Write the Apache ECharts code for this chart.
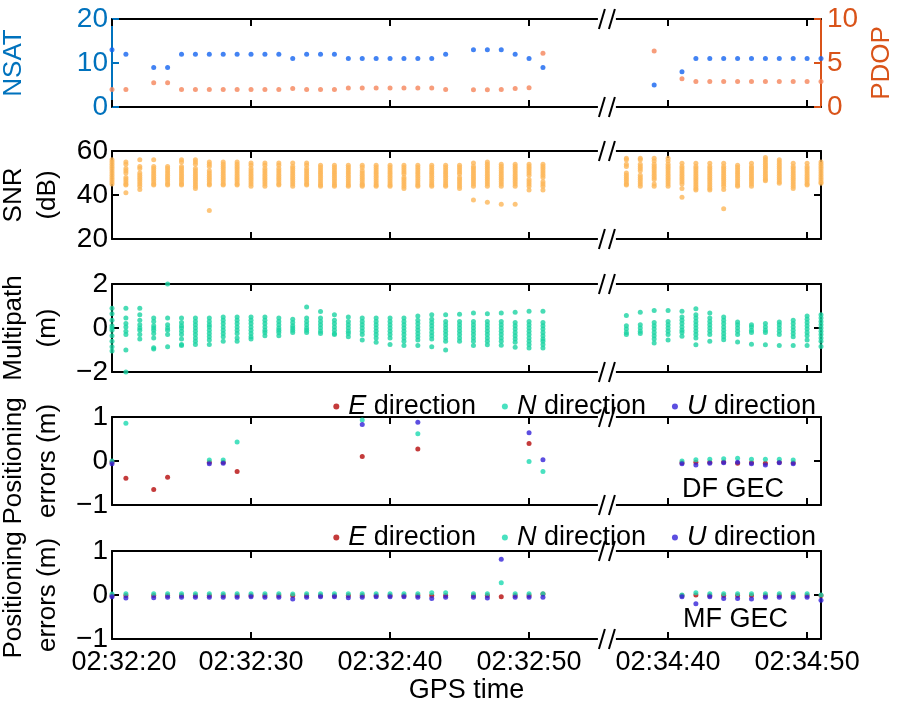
<!DOCTYPE html>
<html><head><meta charset="utf-8">
<script src="https://cdn.jsdelivr.net/npm/echarts@6/dist/echarts.min.js"></script>
<style>html,body{margin:0;padding:0;background:#fff}#c{width:898px;height:712px}</style>
</head><body><div id="c"></div>
<script>
// time = seconds after 02:32:00
const nsatTime = [20,21,23,24,25,26,27,28,29,30,31,32,33,34,35,36,37,38,39,40,41,42,43,44,46,47,48,49,50,51,159,161,162,163,164,165,166,167,168,169,170,171];
const nsatValue = [13,12,9,9,12,12,12,12,12,12,12,12,11,12,12,12,11,11,11,11,11,11,11,12,13,13,13,12,11,9,5,8,11,11,11,11,11,11,11,11,11,11];
const pdopValue = [2.0,2.0,2.75,2.75,2.0,2.0,2.0,2.0,2.0,2.0,2.0,2.0,2.1,2.0,2.0,2.0,2.15,2.15,2.15,2.15,2.15,2.15,2.15,2.0,1.95,1.95,2.0,2.1,2.2,6.1,6.35,3.2,2.9,2.9,2.9,2.9,2.9,2.9,2.9,2.9,2.9,2.9];

const obsTime = [20,21,22,23,24,25,26,27,28,29,30,31,32,33,34,35,36,37,38,39,40,41,42,43,44,45,46,47,48,49,50,51,157,158,159,160,161,162,163,164,165,166,167,168,169,170,171];
const snrValues = [
 [56,55,54,53,52,51,50,49,48,47,46,45],
 [55,54,52,51,50,48,47,46,45,44.5,41],
 [56,53,52,50,49,48,47,46,45,44,42.5],
 [56,53,52,51,50,49,48,47,46,45,44.5],
 [53,52,51,50,49,48,47,46,45,44.5],
 [56,55,53,52,51,50,49,48,47,46,45,44.5],
 [56,55,54,52,51,50,49,48,47,46,45,44,43],
 [55,54,53,51,50,49,48,47,46,45,44.5,33],
 [55,54,53,52,51,50,49,48,47,46,45,44.5],
 [55,54,53,52,51,50,49,48,47,46,45,44.5],
 [54.5,53.5,52,51,50,49,48,47,46,45,44],
 [54.5,53.5,52,51,50,49,48,47,46,45,44],
 [54.5,53.5,52,51,50,49,48,47,46,45,44.5],
 [54.5,53,52,51,50,49,48,47,46,45,44],
 [54.5,53.5,52,51,50,49,48,47,46,45,44.5],
 [53.5,52.5,51.5,50.5,49.5,48.5,47.5,46.5,45.5,44.5,44],
 [53.5,52.5,51.5,50.5,49.5,48.5,47.5,46.5,45.5,44.5,44],
 [53.5,52.5,51.5,50.5,49.5,48.5,47.5,46.5,45.5,44.5,44],
 [53.5,52.5,51,50,49,48,47,46,45,44.5,44],
 [53.5,52.5,51.5,50.5,49.5,48.5,47.5,46.5,45.5,44.5,44],
 [53.5,52.5,51.5,50.5,49.5,48.5,47.5,46.5,45.5,44.5,44],
 [53.5,52.5,51.5,50.5,49.5,48,47,46,45,44,43],
 [53.5,52.5,51.5,50.5,49.5,48.5,47.5,46.5,45.5,44.5,44],
 [53.5,52.5,51.5,50.5,49.5,48.5,47.5,46.5,45.5,44.5,44],
 [53.5,52.5,51.5,50.5,49.5,48.5,47.5,46.5,45.5,44.5,44],
 [53.5,52.5,51.5,50.5,49.5,48,47,46,45,44,43],
 [54.5,53,52,51,50,49,48,47,46,45,44,37.7],
 [55,54,53,52,51,50,49,48,47,46,45,44,36.7],
 [54,53,52,51,50,49,48,47,46,45,44,35.8],
 [54,53,52,51,50,49,48,47,46,45,44,35.8],
 [54,53,52,51,50,49,47,46,45,44,42.3],
 [54,53,52,51,50,49,48,46,45,44,42.3],
 [56.7,56,54,53,50,49,48,47,46,45,44.5],
 [56.7,56,54,53,52,51,49,48,47,46,45,44],
 [56.7,55.5,54,53,52,51,50,49,48,47,45,44],
 [56.7,55.5,54,53,52,51,50,49,48,47,46,45,44],
 [54.4,53,52,51,50,49,48,47,46,45,43,39],
 [54.4,53,52,51,50,49,48,47,46,45,44,43,42.3],
 [54.4,53,52,51,50,49,48,47,46,45,44,43,42.3],
 [54.4,53,52,51,50,49,48,47,46,45,44,42.5,33.8],
 [53.5,52.5,51.5,50.5,49.5,48.5,47.5,46.5,45.5,44.5,44],
 [54.4,53,52,51,50,49,48,47,46,45,44],
 [57,56,55,54,53,52,51,50,49,48,47,46.5],
 [56,55,54,53,52,51,50,49,48,47,46,45.3],
 [54.4,53,52,51,50,49,48,47,46,45,44,43],
 [54.4,53,52,51,50,49,48,47,46,45,44.5],
 [55,54,53,52,51,50,49,48,47,46,45.3]
];
const mpValues = [
 [0.9,0.65,0.35,0.1,0,-0.1,-0.35,-0.6,-0.85,-1.05],
 [0.9,0.45,0.2,0.05,-0.15,-0.3,-1.0,-2.0],
 [0.9,0.6,0.35,0.15,0,-0.1,-0.3,-0.5],
 [0.45,0.3,0.1,0,-0.1,-0.25,-0.45,-0.9,-0.95],
 [2.0,0.45,0.15,0,-0.1,-0.3,-0.85],
 [0.45,0.25,0.1,0,-0.15,-0.3,-0.5,-0.75,-0.8],
 [0.45,0.3,0.15,0,-0.15,-0.3,-0.45,-0.6,-0.75],
 [0.45,0.3,0.15,0.05,-0.1,-0.25,-0.4,-0.55,-0.75],
 [0.5,0.35,0.2,0.05,-0.1,-0.25,-0.4,-0.6],
 [0.5,0.35,0.2,0.05,-0.1,-0.25,-0.45,-0.6],
 [0.5,0.35,0.2,0.05,-0.1,-0.25,-0.4,-0.5],
 [0.5,0.35,0.2,0.05,-0.1,-0.2,-0.35],
 [0.45,0.3,0.15,0,-0.1,-0.2,-0.35],
 [0.4,0.25,0.1,0,-0.1,-0.2],
 [0.95,0.45,0.3,0.15,0,-0.1,-0.2],
 [0.75,0.45,0.3,0.15,0,-0.15,-0.25],
 [0.6,0.35,0.2,0.05,-0.1,-0.25,-0.3],
 [0.5,0.3,0.15,0,-0.15,-0.25,-0.4],
 [0.45,0.3,0.15,0,-0.15,-0.3,-0.55],
 [0.45,0.3,0.15,0,-0.15,-0.3,-0.45,-0.65],
 [0.45,0.3,0.15,0,-0.15,-0.3,-0.45,-0.75],
 [0.45,0.3,0.15,0,-0.15,-0.3,-0.45,-0.6,-0.8],
 [0.55,0.35,0.2,0.05,-0.1,-0.25,-0.4,-0.55,-0.8],
 [0.6,0.4,0.25,0.1,-0.05,-0.2,-0.35,-0.5,-0.85],
 [0.6,0.3,0.15,0,-0.15,-0.3,-0.45,-0.6,-1.0],
 [0.62,0.3,0.15,0,-0.15,-0.3,-0.45,-0.6],
 [0.68,0.3,0.15,0,-0.15,-0.3,-0.45,-0.6,-0.8],
 [0.65,0.3,0.15,0,-0.15,-0.3,-0.45,-0.6,-0.76],
 [0.68,0.3,0.15,0,-0.15,-0.3,-0.45,-0.6,-0.78],
 [0.72,0.25,0.1,-0.05,-0.2,-0.35,-0.5,-0.65,-0.88],
 [0.76,0.3,0.15,0,-0.15,-0.3,-0.45,-0.6,-0.75,-0.91],
 [0.76,0.25,0.1,-0.05,-0.2,-0.35,-0.5,-0.6,-0.75,-0.91],
 [0.57,0.1,-0.05,-0.2,-0.3],
 [0.72,0.15,0,-0.15,-0.25],
 [0.8,0.25,0.1,-0.05,-0.2,-0.35,-0.5,-0.68],
 [0.8,0.3,0.15,0,-0.15,-0.3,-0.55],
 [0.76,0.5,0.35,0.2,0.05,-0.1,-0.2,-0.38],
 [0.88,0.6,0.45,0.3,0.15,0,-0.15,-0.3,-0.45,-0.76],
 [0.68,0.45,0.3,0.15,0,-0.15,-0.3,-0.6],
 [0.5,0.35,0.2,0.05,-0.1,-0.25,-0.4,-0.53],
 [0.27,0.15,0,-0.15,-0.3,-0.64],
 [0.15,0.05,-0.1,-0.2,-0.74],
 [0.2,0.05,-0.1,-0.2,-0.76],
 [0.27,0.15,0,-0.15,-0.3,-0.8],
 [0.35,0.2,0.05,-0.1,-0.25,-0.4,-0.8],
 [0.55,0.4,0.25,0.1,-0.05,-0.2,-0.35,-0.55,-0.8],
 [0.6,0.45,0.3,0.15,0,-0.15,-0.3,-0.45,-0.6,-0.84]
];

// DF GEC positioning errors [time, value]
const dfE = [[20,-0.02],[21,-0.39],[23,-0.65],[24,-0.37],[27,-0.03],[28,-0.03],[29,-0.24],[38,0.1],[42,0.27],[50,0.4],[161,-0.04],[162,-0.03],[163,-0.03],[164,-0.02],[165,-0.05],[166,-0.04],[167,-0.05],[168,-0.03],[169,-0.04]];
const dfN = [[20,0.0],[21,0.86],[27,0.02],[28,0.02],[29,0.43],[38,0.93],[42,0.62],[50,-0.01],[51,-0.24],[161,0.0],[162,0.03],[163,0.04],[164,0.05],[165,0.06],[166,0.04],[167,0.04],[168,0.04],[169,0.02]];
const dfU = [[20,-0.06],[27,-0.06],[28,-0.05],[38,0.83],[42,0.88],[50,0.64],[51,0.03],[161,-0.06],[162,-0.09],[163,-0.05],[164,-0.04],[165,-0.03],[166,-0.06],[167,-0.09],[168,-0.04],[169,-0.06]];

// MF GEC positioning errors
const mfTime = [20,21,23,24,25,26,27,28,29,30,31,32,33,34,35,36,37,38,39,40,41,42,43,44,46,47,48,49,50,51,161,162,163,164,165,166,167,168,169,170,171];
const mfE = [-0.01,-0.01,-0.01,-0.01,-0.01,-0.01,-0.01,-0.01,-0.01,-0.01,-0.01,-0.01,-0.01,-0.01,-0.01,-0.01,-0.01,-0.01,-0.01,-0.01,-0.01,-0.01,-0.01,-0.01,-0.01,-0.01,-0.04,-0.01,-0.01,0.02,-0.01,0.0,-0.01,-0.01,-0.01,-0.01,-0.01,-0.01,-0.01,-0.01,-0.01];
const mfN = [0.02,0.03,0.03,0.03,0.03,0.03,0.03,0.03,0.03,0.03,0.03,0.03,0.02,0.03,0.03,0.03,0.03,0.03,0.03,0.03,0.03,0.03,0.05,0.05,0.03,0.03,0.28,0.03,0.03,0.03,0.0,0.05,0.03,0.03,0.03,0.03,0.03,0.03,0.03,0.03,0.0];
const mfU = [-0.04,-0.07,-0.06,-0.05,-0.05,-0.05,-0.05,-0.05,-0.05,-0.04,-0.05,-0.05,-0.09,-0.05,-0.04,-0.04,-0.06,-0.05,-0.04,-0.04,-0.04,-0.05,-0.08,-0.05,-0.05,-0.07,0.81,-0.05,-0.05,-0.05,-0.04,-0.2,-0.04,-0.08,-0.08,-0.09,-0.05,-0.05,-0.05,-0.05,-0.12];

const xTickTimes = [20,30,40,50,160,170];
const xTickLabels = ['02:32:20','02:32:30','02:32:40','02:32:50','02:34:40','02:34:50'];
const axisBreak = {from: 55.6, to: 155.6};   // 02:32:55.6 .. 02:34:35.6 is cut out

const FONT = 'Liberation Sans, Arial, Helvetica, sans-serif';
const C = {nsat:'#1464F0', pdop:'#F5845A', snr:'#FDB659', mp:'#1CD3A2', E:'#B50A0A', N:'#1CD9B0', U:'#3322D8', axL:'#0072BD', axR:'#D95319'};

function cx(t){ return t >= axisBreak.to ? t - (axisBreak.to - axisBreak.from) : t; }
const xTicks = xTickTimes.map(cx);
const xMin = 20, xMax = cx(171);

function flat(times, lists){ const out=[]; times.forEach((t,i)=>lists[i].forEach(v=>out.push([cx(t),v]))); return out; }
function pairs(times, vals){ return times.map((t,i)=>[cx(t), vals[i]]); }
function conv(arr){ return arr.map(p=>[cx(p[0]), p[1]]); }
function fmtY(v){ return v < 0 ? '\u2212' + (-v) : String(v); }

const tops = [19, 151, 284, 417, 551];
const H = 88;
const TICKF = 28, TXTF = 27, NAMEF = 26;
const grid = tops.map(t=>({left:112, right:77, top:t, height:H, containLabel:false, outerBoundsMode:'none'}));

const xAxis = [];
tops.forEach((t,p)=>{
  const base = {type:'value', gridIndex:p, min:xMin, max:xMax, splitLine:{show:false},
    axisLine:{onZero:false, lineStyle:{color:'#000', width:2}},
    axisTick:{inside:true, length:7, customValues:xTicks, lineStyle:{color:'#000', width:2}}};
  xAxis.push(Object.assign({}, base, {position:'bottom',
    axisLabel:{show:p===4, customValues:xTicks, margin:10, color:'#000', fontSize:TXTF, fontFamily:FONT,
      formatter:(v)=>{ const i = xTicks.indexOf(v); if (i<0) return ''; return i===0 ? '{f|'+xTickLabels[i]+'}' : xTickLabels[i]; },
      rich:{f:{padding:[0,0,0,24], fontSize:TXTF, fontFamily:FONT, color:'#000'}}},
    name: p===4 ? 'GPS time' : '', nameLocation:'middle', nameGap:38,
    nameTextStyle:{fontSize:TXTF, fontFamily:FONT, color:'#000'}}));
  xAxis.push(Object.assign({}, base, {position:'top', axisLabel:{show:false}}));
});

const yRanges = [[20,60,20],[-2,2,2],[-1,1,1],[-1,1,1]];
const yNames = ['SNR\n(dB)','Multipath\n(m)','Positioning\nerrors (m)','Positioning\nerrors (m)'];
const yAxis = [
  {type:'value', gridIndex:0, position:'left', min:0, max:20, interval:10, splitLine:{show:false},
   axisLine:{onZero:false, lineStyle:{color:C.axL, width:2}}, axisTick:{inside:true, length:7, lineStyle:{color:C.axL, width:2}},
   axisLabel:{color:C.axL, fontSize:TICKF, fontFamily:FONT, margin:4},
   name:'NSAT', nameLocation:'middle', nameRotate:90, nameGap:85, nameTextStyle:{color:C.axL, fontSize:NAMEF, fontFamily:FONT}},
  {type:'value', gridIndex:0, position:'right', min:0, max:10, interval:5, splitLine:{show:false},
   axisLine:{onZero:false, lineStyle:{color:C.axR, width:2}}, axisTick:{inside:true, length:7, lineStyle:{color:C.axR, width:2}},
   axisLabel:{color:C.axR, fontSize:TICKF, fontFamily:FONT, margin:6},
   name:'PDOP', nameLocation:'middle', nameRotate:90, nameGap:47, nameTextStyle:{color:C.axR, fontSize:NAMEF, fontFamily:FONT}}
];
yRanges.forEach((r,k)=>{
  const p = k+1;
  const base = {type:'value', gridIndex:p, min:r[0], max:r[1], interval:r[2], splitLine:{show:false},
    axisLine:{onZero:false, lineStyle:{color:'#000', width:2}}, axisTick:{inside:true, length:7, lineStyle:{color:'#000', width:2}}};
  yAxis.push(Object.assign({}, base, {position:'left',
    axisLabel:{color:'#000', fontSize:TICKF, fontFamily:FONT, margin:4, formatter:fmtY},
    name:yNames[k], nameLocation:'middle', nameRotate:90, nameGap:47,
    nameTextStyle:{color:'#000', fontSize:NAMEF, fontFamily:FONT, lineHeight:34}}));
  yAxis.push(Object.assign({}, base, {position:'right', axisLabel:{show:false}}));
});

function sc(name, data, color, xi, yi){
  return {type:'scatter', name, data, xAxisIndex:xi, yAxisIndex:yi, symbol:'circle', symbolSize:5,
    itemStyle:{color}, silent:true, animation:false};
}

function breakRender(params, api){
  const cs = params.coordSys;
  const x = api.coord([api.value(0), api.value(1)])[0];
  const ch = [];
  [cs.y, cs.y + cs.height].forEach(y=>{
    ch.push({type:'rect', shape:{x:x-9, y:y-2, width:18, height:4}, style:{fill:'#fff'}});
    ch.push({type:'line', shape:{x1:x-8, y1:y+10, x2:x-2, y2:y-10}, style:{stroke:'#000', lineWidth:2}});
    ch.push({type:'line', shape:{x1:x+2, y1:y+10, x2:x+8, y2:y-10}, style:{stroke:'#000', lineWidth:2}});
  });
  return {type:'group', children:ch};
}
const yMins = [0,20,-2,-1,-1];

const series = [
  sc('NSAT', pairs(nsatTime, nsatValue), C.nsat, 0, 0),
  sc('PDOP', pairs(nsatTime, pdopValue), C.pdop, 0, 1),
  sc('SNR', flat(obsTime, snrValues), C.snr, 2, 2),
  sc('Multipath', flat(obsTime, mpValues), C.mp, 4, 4),
  sc('E direction', conv(dfE), C.E, 6, 6),
  sc('N direction', conv(dfN), C.N, 6, 6),
  sc('U direction', conv(dfU), C.U, 6, 6),
  sc('E direction', pairs(mfTime, mfE), C.E, 8, 8),
  sc('N direction', pairs(mfTime, mfN), C.N, 8, 8),
  sc('U direction', pairs(mfTime, mfU), C.U, 8, 8)
];
tops.forEach((t,p)=>{
  series.push({type:'custom', name:'break'+p, xAxisIndex:2*p, yAxisIndex:2*p, clip:false, silent:true, animation:false, z:10,
    data:[[axisBreak.from, yMins[p]]], renderItem:breakRender});
});

const legend = [388, 519].map(top=>({
  top, right:77, icon:'circle', itemWidth:6, itemHeight:6, itemGap:26, selectedMode:false,
  data:['E direction','N direction','U direction'],
  formatter:(n)=>'{i|'+n.charAt(0)+'}{t| direction}',
  textStyle:{fontSize:TXTF, fontFamily:FONT, color:'#000', padding:[0,0,0,4],
    rich:{i:{fontStyle:'italic', fontSize:TXTF, fontFamily:FONT, color:'#000'}, t:{fontSize:TXTF, fontFamily:FONT, color:'#000'}}}
}));

const chart = echarts.init(document.getElementById('c'), null, {renderer:'canvas'});
chart.setOption({
  animation:false, backgroundColor:'#fff',
  grid, xAxis, yAxis, series, legend,
  graphic:[
    {type:'text', left:682, top:476, style:{text:'DF GEC', font:TXTF+'px '+FONT, fill:'#000'}},
    {type:'text', left:683, top:606, style:{text:'MF GEC', font:TXTF+'px '+FONT, fill:'#000'}}
  ]
});
</script></body></html>
